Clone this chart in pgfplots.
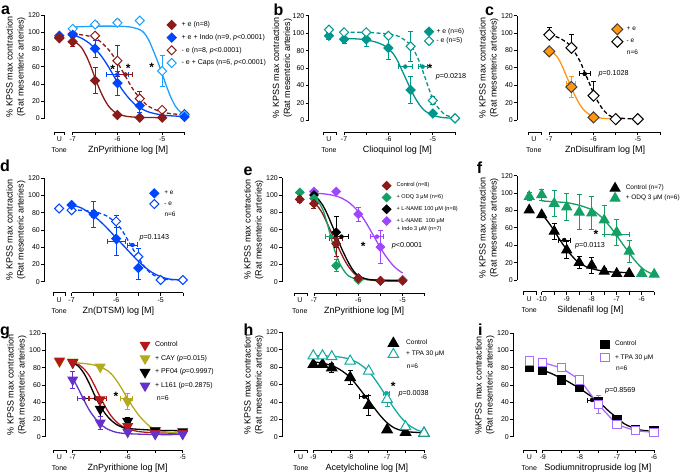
\documentclass[border=0pt]{standalone}
\usepackage{fontspec}
\setmainfont{Liberation Sans}
\usepackage{pgfplots}
\pgfplotsset{compat=1.18}

\definecolor{cRed}{RGB}{139,26,26}
\definecolor{cBlue}{RGB}{0,70,255}
\definecolor{cSky}{RGB}{30,160,255}
\definecolor{cTeal}{RGB}{0,150,140}
\definecolor{cOrange}{RGB}{255,150,20}
\definecolor{cGreen}{RGB}{20,160,100}
\definecolor{cPurple}{RGB}{160,70,255}
\definecolor{cRed2}{RGB}{180,25,25}
\definecolor{cOlive}{RGB}{180,170,30}
\definecolor{cViolet}{RGB}{100,50,200}
\definecolor{cTeal2}{RGB}{20,170,160}
\definecolor{cLilac}{RGB}{170,110,255}

\newcommand\tf{\fontsize{7}{8}\selectfont}
\newcommand\lf{\fontsize{9}{11}\selectfont}
\newcommand\af{\fontsize{7.2}{8}\selectfont}

\tikzset{
  fd/.style={mark=square*, mark options={rotate=45, solid}},
  od/.style={mark=square*, mark options={rotate=45, solid, fill=white}},
  oo/.style={mark=square*, mark options={rotate=45, solid, draw=black!75}},
  ft/.style={mark=triangle*, mark options={solid}},
  ot/.style={mark=triangle*, mark options={solid, fill=white}},
  dt/.style={mark=triangle*, mark options={solid, rotate=180}},
  fs/.style={mark=square*, mark options={solid}},
  os/.style={mark=square*, mark options={solid, fill=white}},
  axl/.style={black, line width=0.8pt},
  tl/.style={font=\tf, inner sep=0pt, anchor=north},
  ann/.style={font=\af, inner sep=0pt, anchor=west},
  let/.style={font=\bfseries\fontsize{16}{16}\selectfont, inner sep=0pt, anchor=base west},
}

\pgfplotsset{
  pan/.style={
    scale only axis, clip=false, anchor=south west,
    axis x line=none, axis y line*=left,
    ymin=0, ymax=120, ytick={0,20,...,120}, xtick=\empty,
    /pgf/number format/assume math mode=true,
    tick align=outside, major tick length=3pt,
    every tick/.style={black, line width=0.8pt},
    axis line style={black, line width=0.8pt},
    yticklabel style={font=\tf, inner sep=1pt},
    ylabel style={font=\lf, align=center, at={(ticklabel cs:0.5,-2pt)}},
    ylabel={\% KPSS max contraction\\(Rat mesenteric arteries)},
    legend cell align=left,
    legend image code/.code={\path[draw=none, fill=none] (-6pt,-6pt) rectangle (6pt,6pt); \draw[##1] plot coordinates {(0pt,0pt)};},
    legend style={draw=none, fill=none, anchor=north west, inner sep=0pt, outer sep=0pt, nodes={inner sep=0.5pt}},
  },
  fit/.style={line width=1.3pt, mark=none, forget plot, smooth},
  dash/.style={dash pattern=on 4pt off 2.5pt},
  dat/.style={only marks, forget plot, line width=1pt,
    error bars/y dir=both, error bars/y explicit,
    error bars/error bar style={line width=0.9pt, solid},
    error bars/error mark options={rotate=90, mark size=2.5pt, line width=0.9pt, solid}},
  hbar/.style={only marks, mark=none, forget plot,
    error bars/x dir=both, error bars/x explicit,
    error bars/error bar style={line width=0.9pt, solid},
    error bars/error mark options={rotate=90, mark size=2.5pt, line width=0.9pt, solid}},
}

% broken x axis: U left, U right, U centre, start, end, title x, ticks, labels, title
\newcommand\xax[9]{%
  \draw[axl] ([yshift=\xo-3pt]axis cs:#1,0) -- ([yshift=\xo]axis cs:#1,0) -- ([yshift=\xo]axis cs:#2,0) -- ([yshift=\xo-3pt]axis cs:#2,0);
  \node[tl] at ([yshift=\xo-4.5pt]axis cs:#3,0) {U};
  \node[font=\tf, inner sep=0pt, anchor=base] at ([yshift=\xo-20.5pt]axis cs:#3,0) {Tone};
  \draw[axl] ([yshift=\xo]axis cs:#4,0) -- ([yshift=\xo]axis cs:#5,0);
  \pgfplotsinvokeforeach{#7}{\draw[axl] ([yshift=\xo]axis cs:##1,0) -- ([yshift=\xo-3pt]axis cs:##1,0);}
  \pgfplotsinvokeforeach{#8}{\node[tl] at ([yshift=\xo-4.5pt]axis cs:##1,0) {##1};}
  \node[font=\lf, inner sep=0pt, anchor=base] at ([yshift=\xo-20.5pt]axis cs:#6,0) {#9};
}
\newcommand\sig[2]{\node[font=\bfseries\fontsize{12}{12}\selectfont, inner sep=0pt, anchor=base] at (#1pt,-#2pt) {*};}

\begin{document}
\begin{tikzpicture}

% ---------------- a
\def\xo{-13.5pt}
\begin{axis}[pan, at={(44pt,-118.5pt)}, width=140.5pt, height=103.5pt, xmin=-7.642, xmax=-4.5,
  legend style={at={(0.866,0.962)}, font=\fontsize{7}{8}\selectfont, column sep=3.5pt, row sep=0.7pt}]
\addplot[fit, cRed] coordinates {(-7,90)(-6.9,87)(-6.8,82)(-6.7,73)(-6.6,61)(-6.5,47)(-6.4,34)(-6.3,23)(-6.2,14.5)(-6.1,9)(-6,5.5)(-5.8,2.5)(-5.5,1.3)(-5,1)};
\addplot[fit, cBlue] coordinates {(-7,97)(-6.8,93)(-6.6,86)(-6.4,75)(-6.3,68)(-6.2,60)(-6.1,51)(-6,42)(-5.9,34)(-5.8,27)(-5.7,21)(-5.6,16)(-5.5,12.5)(-5.3,7.5)(-5,4)(-4.7,2.8)(-4.5,2.5)};
\addplot[fit, cRed, dash] coordinates {(-7,98)(-6.8,97)(-6.6,95)(-6.4,90)(-6.2,80)(-6.1,73)(-6,65)(-5.9,56)(-5.8,47)(-5.7,38)(-5.6,30)(-5.5,24)(-5.4,18.5)(-5.3,14)(-5.1,9)(-5,7.5)(-4.8,5.5)(-4.5,4.5)};
\addplot[fit, cSky] coordinates {(-7,106)(-6.5,107)(-6,107)(-5.7,106)(-5.5,103)(-5.4,99)(-5.3,91)(-5.2,79)(-5.1,66)(-5,52)(-4.9,37)(-4.8,24)(-4.7,14)(-4.6,8)(-4.5,5)};
\addplot[hbar, cBlue] coordinates {(-6.0,51) +- (0.24,0)};
\addplot[hbar, cRed] coordinates {(-5.82,51) +- (0.16,0)};
\addplot[dat, cRed, od, mark size=3.2pt] coordinates {(-7.3,93)+-(0,0) (-7,98)+-(0,0) (-6.5,96)+-(0,3) (-6,67)+-(0,18) (-5.5,23)+-(0,8) (-5,10)+-(0,2) (-4.5,5)+-(0,0)};
\addplot[dat, cSky, od, mark size=3.2pt] coordinates {(-7,104)+-(0,0) (-6.5,109)+-(0,3) (-6,111)+-(0,4) (-5.5,113.5)+-(0,2) (-5,55)+-(0,18) (-4.5,4)+-(0,0)};
\addplot[dat, cBlue, fd, mark size=3.2pt] coordinates {(-7.3,96)+-(0,0) (-7,97)+-(0,3) (-6.5,81)+-(0,10) (-6,41)+-(0,14) (-5.5,15)+-(0,8) (-4.5,2)+-(0,0)};
\addplot[dat, cRed, fd, mark size=3.2pt] coordinates {(-7.3,94)+-(0,3) (-7,89)+-(0,6) (-6.5,44)+-(0,15) (-6,4)+-(0,1) (-5.5,1)+-(0,0) (-5,1)+-(0,0)};
\addlegendimage{cRed, fd, mark size=3.2pt, line width=1pt}\addlegendentry{+ e (n=8)}
\addlegendimage{cBlue, fd, mark size=3.2pt, line width=1pt}\addlegendentry{+ e + Indo (n=9, \textit{p}<0.0001)}
\addlegendimage{cRed, od, mark size=3.2pt, line width=1pt}\addlegendentry{- e (n=8, \textit{p}<0.0001)}
\addlegendimage{cSky, od, mark size=3.2pt, line width=1pt}\addlegendentry{- e + Caps (n=6, \textit{p}<0.0001)}
\xax{-7.42}{-7.19}{-7.3}{-7}{-4.5}{-5.76}{-7,-6.5,...,-4.5}{-7,-6,-5}{ZnPyrithione log [M]}
\end{axis}

% ---------------- b
\def\xo{-11.8pt}
\begin{axis}[pan, at={(308.5pt,-120.5pt)}, width=146.5pt, height=104.8pt, xmin=-7.801, xmax=-4.5,
  ylabel style={at={(ticklabel cs:0.5,-4pt)}},
  legend style={at={(0.782,0.905)}, font=\fontsize{6.8}{8}\selectfont, column sep=1pt, row sep=-2.7pt}]
\addplot[fit, cTeal] coordinates {(-7,94)(-6.6,93)(-6.3,90)(-6.1,86)(-6,82)(-5.9,77)(-5.8,69)(-5.7,58)(-5.6,47)(-5.5,36)(-5.4,26)(-5.3,18)(-5.2,12)(-5.1,8.5)(-5,6)(-4.8,3.5)(-4.5,2.5)};
\addplot[fit, cTeal, dash] coordinates {(-7,101)(-6.5,101)(-6,99)(-5.8,97)(-5.6,91)(-5.5,86)(-5.4,78)(-5.3,67)(-5.2,53)(-5.1,38)(-5,25)(-4.9,16)(-4.8,10)(-4.7,6)(-4.5,3)};
\addplot[hbar, cTeal] coordinates {(-5.62,61.7) +- (0.16,0)};
\addplot[hbar, cTeal] coordinates {(-5.23,61.7) +- (0.1,0)};
\addplot[dat, cTeal, fd, mark size=3.2pt] coordinates {(-7.34,97)+-(0,4) (-7,93)+-(0,5) (-6.5,93)+-(0,8) (-6,83)+-(0,13) (-5.5,35)+-(0,15) (-5,8)+-(0,2) (-4.5,2.5)+-(0,0)};
\addplot[dat, cTeal, od, mark size=3.2pt] coordinates {(-7.34,104)+-(0,0) (-7,101)+-(0,0) (-6.5,101)+-(0,0) (-6,97)+-(0,2) (-5.5,85)+-(0,17) (-5,23)+-(0,5) (-4.5,2.5)+-(0,0)};
\addlegendimage{cTeal, fd, mark size=3.2pt, line width=1pt}\addlegendentry{+ e (n=6)}
\addlegendimage{cTeal, od, mark size=3.2pt, line width=1pt}\addlegendentry{- e (n=5)}
\xax{-7.47}{-7.18}{-7.34}{-7}{-4.5}{-5.8}{-7,-6.5,...,-4.5}{-7,-6,-5}{Clioquinol log [M]}
\end{axis}

% ---------------- c
\def\xo{-12.3pt}
\begin{axis}[pan, at={(517pt,-120pt)}, width=142.9pt, height=104.3pt, xmin=-7.73, xmax=-4.5,
  legend style={at={(0.660,0.927)}, font=\fontsize{6.5}{8}\selectfont, column sep=2.9pt, row sep=0.4pt}]
\addplot[fit, cOrange] coordinates {(-7,80)(-6.9,77)(-6.8,71)(-6.7,61)(-6.6,49)(-6.5,37)(-6.4,26)(-6.3,17)(-6.2,10.5)(-6.1,6.5)(-6,4)(-5.8,2)(-5.5,1.5)};
\addplot[fit, black, dash] coordinates {(-7,98)(-6.8,95)(-6.6,89)(-6.5,84)(-6.4,76)(-6.3,67)(-6.2,55)(-6.1,43)(-6,31)(-5.9,21)(-5.8,13)(-5.7,7.5)(-5.6,4)(-5.5,2.5)(-5.2,1.5)(-5,1)};
\addplot[hbar, cOrange] coordinates {(-6.52,42) +- (0.1,0)};
\addplot[hbar, black] coordinates {(-6.2,53) +- (0.12,0)};
\addplot[dat, black, od, mark size=3.9pt, error bars/y dir=plus] coordinates {(-7,98)+-(0,9) (-6.5,83)+-(0,15) (-6,28)+-(0,16) (-5.5,1)+-(0,0) (-5,1)+-(0,0)};
\addplot[dat, cOrange, oo, mark size=3.9pt] coordinates {(-7,79)+-(0,0) (-6.5,38)+-(0,12) (-6,3)+-(0,0)};
\addlegendimage{cOrange, oo, mark size=3.9pt, line width=1pt}\addlegendentry{+ e}
\addlegendimage{black, od, mark size=3.9pt, line width=1pt}\addlegendentry{- e}
\xax{-7.47}{-7.17}{-7.35}{-7}{-4.5}{-5.74}{-7,-6.5,...,-4.5}{-7,-6,-5}{ZnDisulfiram log [M]}
\end{axis}

% ---------------- d
\def\xo{-11pt}
\begin{axis}[pan, at={(44pt,-281.7pt)}, width=138.9pt, height=103.4pt, xmin=-7.62, xmax=-4.5,
  legend style={at={(0.751,0.913)}, font=\fontsize{6.5}{8}\selectfont, column sep=3.5pt, row sep=-1.3pt}]
\addplot[fit, cBlue] coordinates {(-7,89)(-6.8,86)(-6.6,80)(-6.4,72)(-6.2,62)(-6,51)(-5.8,40)(-5.6,29)(-5.4,19)(-5.2,11)(-5,6)(-4.8,3)(-4.5,2)};
\addplot[fit, cBlue, dash] coordinates {(-7,83)(-6.8,83)(-6.6,82)(-6.4,80)(-6.2,76)(-6,68)(-5.9,62)(-5.8,54)(-5.7,45)(-5.6,36)(-5.5,28)(-5.4,20)(-5.3,13.5)(-5.2,9)(-5,4)(-4.8,2.5)(-4.5,2)};
\addplot[hbar, cBlue] coordinates {(-5.99,46.5) +- (0.21,0)};
\addplot[hbar, cBlue] coordinates {(-5.63,42.6) +- (0.11,0)};
\addplot[dat, cBlue, od, mark size=3.2pt] coordinates {(-7.28,85)+-(0,0) (-7,83)+-(0,0) (-6.5,79)+-(0,4) (-6,70)+-(0,7) (-5.5,29)+-(0,10) (-5,2)+-(0,0) (-4.5,2)+-(0,0)};
\addplot[dat, cBlue, fd, mark size=3.2pt] coordinates {(-7,89)+-(0,0) (-6.5,78)+-(0,15) (-6,50)+-(0,20) (-5.5,16)+-(0,13)};
\addlegendimage{cBlue, fd, mark size=3.2pt, line width=1pt}\addlegendentry{+ e}
\addlegendimage{cBlue, od, mark size=3.2pt, line width=1pt}\addlegendentry{- e}
\xax{-7.41}{-7.13}{-7.28}{-7}{-4.5}{-5.95}{-7,-6.5,...,-4.5}{-7,-6,-5}{Zn(DTSM) log [M]}
\end{axis}

% ---------------- e
\def\xo{-11.6pt}
\begin{axis}[pan, at={(282pt,-281.7pt)}, width=142.75pt, height=104pt, xmin=-7.722, xmax=-4.5,
  legend style={at={(0.691,0.981)}, font=\fontsize{5.6}{7}\selectfont, column sep=3.5pt, row sep=-0.2pt}]
\addplot[fit, cRed] coordinates {(-7,91)(-6.9,86)(-6.8,78)(-6.7,67)(-6.6,56)(-6.5,45)(-6.4,34)(-6.3,24)(-6.2,16)(-6.1,10)(-6,6)(-5.8,2.5)(-5.5,1)(-5,1)};
\addplot[fit, cGreen] coordinates {(-7,96)(-6.9,92)(-6.8,83)(-6.7,67)(-6.6,48)(-6.5,31)(-6.4,19)(-6.3,11)(-6.2,6)(-6,3)(-5.5,2)(-5,2)};
\addplot[fit, black] coordinates {(-7,99)(-6.9,95)(-6.8,88)(-6.7,78)(-6.6,66)(-6.5,54)(-6.4,41)(-6.3,30)(-6.2,20)(-6.1,12)(-6,7)(-5.8,3)(-5.5,1.5)(-5,1)};
\addplot[fit, cPurple] coordinates {(-7,102)(-6.8,101.5)(-6.6,100)(-6.4,97)(-6.2,91)(-6,81)(-5.9,74)(-5.8,66)(-5.7,57)(-5.6,48)(-5.5,39)(-5.4,31)(-5.3,24)(-5.2,18)(-5.1,13.5)(-5,10)};
\addplot[hbar, cGreen] coordinates {(-6.62,52) +- (0.12,0)};
\addplot[hbar, cRed] coordinates {(-6.5,50) +- (0.15,0)};
\addplot[hbar, black] coordinates {(-6.38,52) +- (0.15,0)};
\addplot[hbar, cPurple] coordinates {(-5.58,52) +- (0.14,0)};
\addplot[dat, cPurple, fd, mark size=3pt] coordinates {(-7,104)+-(0,0) (-6.5,104)+-(0,0) (-6,78)+-(0,8) (-5.5,40)+-(0,19) (-5,2)+-(0,0)};
\addplot[dat, black, fd, mark size=3pt] coordinates {(-7,100)+-(0,0) (-6.5,57)+-(0,18) (-6,4)+-(0,0) (-5.5,1)+-(0,0)};
\addplot[dat, cGreen, fd, mark size=3pt] coordinates {(-7.32,103)+-(0,0) (-7,96)+-(0,3) (-6.5,18.5)+-(0,7) (-6,2)+-(0,0) (-5,2)+-(0,0)};
\addplot[dat, cRed, fd, mark size=3pt] coordinates {(-7.32,95)+-(0,3) (-7,90)+-(0,5) (-6.5,44)+-(0,15) (-6,4)+-(0,0) (-5.5,1)+-(0,0) (-5,1)+-(0,0)};
\addlegendimage{cRed, fd, mark size=3pt, line width=1pt}\addlegendentry{Control (n=8)}
\addlegendimage{cGreen, fd, mark size=3pt, line width=1pt}\addlegendentry{+ ODQ 3 μM (n=6)}
\addlegendimage{black, fd, mark size=3pt, line width=1pt}\addlegendentry{+ L-NAME 100 μM (n=8)}
\addlegendimage{cPurple, fd, mark size=3pt, line width=1pt}\addlegendentry{+ L-NAME\ \ 100 μM}
\xax{-7.45}{-7.15}{-7.32}{-7}{-4.5}{-5.87}{-7,-6.5,...,-4.5}{-7,-6,-5}{ZnPyrithione log [M]}
\end{axis}

% ---------------- f
\def\xo{-11.7pt}
\begin{axis}[pan, at={(517pt,-280pt)}, width=137.2pt, height=104.3pt, xmin=-10.988, xmax=-5.5,
  legend style={at={(0.671,0.937)}, font=\fontsize{6.5}{8}\selectfont, column sep=4.2pt, row sep=-2pt}]
\addplot[fit, black] coordinates {(-10,76)(-9.8,69)(-9.6,61)(-9.4,52)(-9.2,43)(-9,35)(-8.8,28)(-8.6,22)(-8.4,18)(-8.2,15)(-8,13)(-7.5,10)(-7,9)(-6.5,8.5)};
\addplot[fit, cGreen] coordinates {(-10,91)(-9.5,90)(-9,89)(-8.5,86)(-8,81)(-7.8,77)(-7.6,72)(-7.4,66)(-7.2,59)(-7,51)(-6.8,43)(-6.6,35)(-6.4,27)(-6.2,20)(-6,14)(-5.8,10)(-5.5,6)};
\addplot[hbar, black] coordinates {(-9.1,46) +- (0.23,0)};
\addplot[hbar, cGreen] coordinates {(-6.98,52) +- (0.5,0)};
\addplot[dat, cGreen, ft, mark size=5.6pt] coordinates {(-10.5,96)+-(0,5) (-10,98)+-(0,6) (-9.5,88)+-(0,15) (-9,84)+-(0,16) (-8.5,78)+-(0,20) (-8,77)+-(0,19) (-7.5,69)+-(0,17) (-7,55)+-(0,15) (-6.5,33)+-(0,13) (-6,7.5)+-(0,0) (-5.5,6.5)+-(0,0)};
\addplot[dat, black, ft, mark size=5.6pt] coordinates {(-10.5,80.5)+-(0,0) (-10,75)+-(0,0) (-9.5,56)+-(0,9) (-9,34.5)+-(0,10) (-8.5,20)+-(0,7) (-8,17)+-(0,9) (-7.5,10)+-(0,3) (-7,7.5)+-(0,0) (-6.5,7.5)+-(0,0)};
\addlegendimage{black, ft, mark size=5.6pt, line width=1pt}\addlegendentry{Control (n=7)}
\addlegendimage{cGreen, ft, mark size=5.6pt, line width=1pt}\addlegendentry{+ ODQ 3 μM (n=6)}
\xax{-10.74}{-10.2}{-10.5}{-10}{-5.5}{-8.05}{-10,-9.5,...,-5.5}{-10,-9,-8,-7,-6}{Sildenafil log [M]}
\end{axis}

% ---------------- g
\def\xo{-13.3pt}
\begin{axis}[pan, at={(45pt,-436.7pt)}, width=137.7pt, height=103.4pt, xmin=-7.504, xmax=-5,
  legend style={at={(0.683,0.945)}, font=\fontsize{7}{8}\selectfont, column sep=3.5pt, row sep=1.6pt}]
\addplot[fit, cRed2] coordinates {(-7,86)(-6.9,84)(-6.8,79)(-6.7,71)(-6.6,59)(-6.5,46)(-6.4,34)(-6.3,24)(-6.2,17)(-6.1,12)(-6,9)(-5.8,6)(-5.5,4.5)(-5,4)};
\addplot[fit, cOlive] coordinates {(-7,86)(-6.8,85)(-6.6,83)(-6.4,78)(-6.3,73)(-6.2,65)(-6.1,55)(-6,44)(-5.9,34)(-5.8,25)(-5.7,18)(-5.6,12)(-5.5,9)(-5.3,5.5)(-5,4)};
\addplot[fit, black] coordinates {(-7,86)(-6.9,82)(-6.8,74)(-6.7,62)(-6.6,48)(-6.5,36)(-6.4,26)(-6.3,19)(-6.2,14)(-6.1,11)(-6,9.5)(-5.5,7.5)(-5,7)};
\addplot[fit, cViolet] coordinates {(-7,68)(-6.9,56)(-6.8,43)(-6.7,31)(-6.6,22)(-6.5,15)(-6.4,10)(-6.3,7)(-6.2,5)(-6,3.5)(-5.5,2.5)(-5,2.5)};
\addplot[hbar, cViolet] coordinates {(-6.8,44.5) +- (0.11,0)};
\addplot[hbar, black] coordinates {(-6.58,44.5) +- (0.2,0)};
\addplot[hbar, cRed2] coordinates {(-6.55,44.5) +- (0.16,0)};
\addplot[hbar, cOlive] coordinates {(-6.03,44.5) +- (0.11,0)};
\addplot[dat, cOlive, dt, mark size=5.4pt] coordinates {(-7.24,87)+-(0,0) (-7,87)+-(0,0) (-6.5,81)+-(0,0) (-6,41)+-(0,9) (-5.5,7)+-(0,0) (-5,4)+-(0,0)};
\addplot[dat, black, dt, mark size=5.4pt] coordinates {(-7,86)+-(0,0) (-6.5,32)+-(0,8) (-6,18)+-(0,4) (-5.5,7)+-(0,0) (-5,6)+-(0,0)};
\addplot[dat, cRed2, dt, mark size=5.4pt] coordinates {(-7.24,88)+-(0,0) (-7,86)+-(0,0) (-6.5,43)+-(0,0) (-6,12)+-(0,4) (-5.5,4)+-(0,0) (-5,4)+-(0,0)};
\addplot[dat, cViolet, dt, mark size=5.4pt] coordinates {(-7,66)+-(0,10) (-6.5,16)+-(0,7) (-6,5.5)+-(0,2) (-5.5,3)+-(0,0) (-5,3)+-(0,0)};
\addlegendimage{cRed2, dt, mark size=5.4pt, line width=1pt}\addlegendentry{Control}
\addlegendimage{cOlive, dt, mark size=5.4pt, line width=1pt}\addlegendentry{+ CAY (\textit{p}=0.015)}
\addlegendimage{black, dt, mark size=5.4pt, line width=1pt}\addlegendentry{+ PF04 (\textit{p}=0.9997)}
\addlegendimage{cViolet, dt, mark size=5.4pt, line width=1pt}\addlegendentry{+ L161 (\textit{p}=0.2875)}
\xax{-7.35}{-7.12}{-7.24}{-7}{-5}{-6}{-7,-6.5,...,-5}{-7,-6,-5}{ZnPyrithione log [M]}
\end{axis}

% ---------------- h
\def\xo{-13.3pt}
\begin{axis}[pan, at={(282pt,-436.7pt)}, width=142pt, height=104.4pt, xmin=-9.848, xmax=-6,
  legend style={at={(0.742,0.952)}, font=\fontsize{6.6}{8}\selectfont, column sep=6.2pt, row sep=-1pt}]
\addplot[fit, black] coordinates {(-9,86)(-8.8,85)(-8.6,83)(-8.4,80)(-8.2,75)(-8,68)(-7.8,58)(-7.6,47)(-7.4,36)(-7.2,25)(-7,16)(-6.8,10)(-6.6,7)(-6.4,5.5)(-6,4.5)};
\addplot[fit, cTeal2] coordinates {(-9,93)(-8.5,92.5)(-8.2,91)(-8,89)(-7.8,85)(-7.6,79)(-7.4,70)(-7.2,58)(-7,45)(-6.8,32)(-6.6,21)(-6.4,13)(-6.2,8)(-6,5)};
\addplot[hbar, black] coordinates {(-7.62,46) +- (0.12,0)};
\addplot[hbar, cTeal2] coordinates {(-7.02,50) +- (0.08,0)};
\addplot[dat, black, ft, mark size=6pt] coordinates {(-9,83)+-(0,0) (-8.75,83)+-(0,0) (-8.5,79)+-(0,5) (-8,68)+-(0,8) (-7.5,36)+-(0,11) (-7,8)+-(0,0) (-6.5,5)+-(0,2) (-6,4)+-(0,0)};
\addplot[dat, cTeal2, ot, mark size=6pt] coordinates {(-9,93)+-(0,0) (-8.75,93)+-(0,0) (-8.5,92)+-(0,0) (-8,87)+-(0,0) (-7.5,75.5)+-(0,0) (-7,43)+-(0,8) (-6.5,11.5)+-(0,0) (-6,4)+-(0,0)};
\addlegendimage{black, ft, mark size=6pt, line width=1pt}\addlegendentry{Control}
\addlegendimage{cTeal2, ot, mark size=6pt, line width=1pt}\addlegendentry{+ TPA 30 μM}
\xax{-9.52}{-9.16}{-9.34}{-9}{-6}{-7.55}{-9,-8.5,...,-6}{-9,-8,-7,-6}{Acetylcholine log [M]}
\end{axis}

% ---------------- i
\def\xo{-13.3pt}
\begin{axis}[pan, at={(513pt,-436.7pt)}, width=141pt, height=103.4pt, xmin=-9.8, xmax=-6,
  ylabel={\%KPSS max contraction\\(Rat mesenteric arteries)},
  legend style={at={(0.610,0.952)}, font=\fontsize{6.6}{8}\selectfont, column sep=3.5pt, row sep=1.4pt}]
\addplot[fit, black] coordinates {(-9,77)(-8.8,74)(-8.6,70)(-8.4,66)(-8.2,61)(-8,56)(-7.8,50)(-7.6,44)(-7.4,37)(-7.2,29)(-7,22)(-6.8,15)(-6.6,11)(-6.4,8)(-6,6)};
\addplot[line width=1.3pt, mark=none, forget plot, cLilac] coordinates {(-9,86)(-8.5,80)(-8,66)(-7.5,37.5)(-7,14)(-6.5,7)(-6,5)};
\addplot[hbar, black] coordinates {(-7.67,42.6) +- (0.12,0)};
\addplot[dat, black, fs, mark size=4.2pt] coordinates {(-9.36,80)+-(0,0) (-9,77)+-(0,0) (-8.5,66)+-(0,0) (-8,57)+-(0,0) (-7.5,41)+-(0,0) (-7,20)+-(0,0) (-6.5,8)+-(0,0) (-6,6.5)+-(0,0)};
\addplot[dat, cLilac, os, mark size=4.2pt] coordinates {(-9.36,88)+-(0,0) (-9,86)+-(0,0) (-8.5,80)+-(0,0) (-8,66)+-(0,0) (-7.5,37.5)+-(0,10) (-7,14)+-(0,0) (-6.5,7)+-(0,0) (-6,5)+-(0,0)};
\addlegendimage{black, fs, mark size=4.2pt, line width=1pt}\addlegendentry{Control}
\addlegendimage{cLilac, os, mark size=4.2pt, line width=1pt}\addlegendentry{+ TPA 30 μM}
\xax{-9.52}{-9.16}{-9.36}{-9}{-6}{-7.51}{-9,-8.5,...,-6}{-9,-8,-7,-6}{Sodiumnitropruside log [M]}
\end{axis}

% ---------------- annotations
\node[let] at (1pt,-14pt) {a};
\node[let] at (273.3pt,-15pt) {b};
\node[let] at (485pt,-15pt) {c};
\node[let] at (0pt,-171.7pt) {d};
\node[let] at (243.3pt,-175pt) {e};
\node[let] at (476.7pt,-173.3pt) {f};
\node[let] at (0pt,-335pt) {g};
\node[let] at (243.3pt,-335pt) {h};
\node[let] at (478pt,-335pt) {i};

\sig{112.7}{73.6}\sig{128.3}{72.6}\sig{151.7}{71.9}
\sig{430}{72.6}\sig{363.3}{250.2}\sig{596}{238.2}\sig{116}{400.9}\sig{393.3}{390.9}

\node[ann] at (435.7pt,-76.7pt) {\textit{p}=0.0218};
\node[ann] at (598.3pt,-74pt) {\textit{p}=0.1028};
\node[ann] at (139.3pt,-237.3pt) {\textit{p}=0.1143};
\node[ann] at (391.7pt,-245.7pt) {\textit{p}<0.0001};
\node[ann] at (575pt,-245.5pt) {\textit{p}=0.0113};
\node[ann] at (398.3pt,-394pt) {\textit{p}=0.0038};
\node[ann] at (605pt,-391pt) {\textit{p}=0.8569};

\node[ann, font=\fontsize{6.5}{8}\selectfont] at (626.7pt,-52.3pt) {n=6};
\node[ann, font=\fontsize{6.5}{8}\selectfont] at (164.3pt,-214.3pt) {n=6};
\node[ann, font=\fontsize{7}{8}\selectfont] at (156.7pt,-398.3pt) {n=6};
\node[ann, font=\fontsize{6.6}{8}\selectfont] at (406.7pt,-366.7pt) {n=6};
\node[ann, font=\fontsize{6.6}{8}\selectfont] at (616pt,-368.3pt) {n=6};
\node[ann, font=\fontsize{5.6}{7}\selectfont] at (396.7pt,-229.3pt) {+ Indo 3 μM (n=7)};

\pgfresetboundingbox
\useasboundingbox (0pt,0pt) rectangle (685pt,-472pt);
\end{tikzpicture}
\end{document}
